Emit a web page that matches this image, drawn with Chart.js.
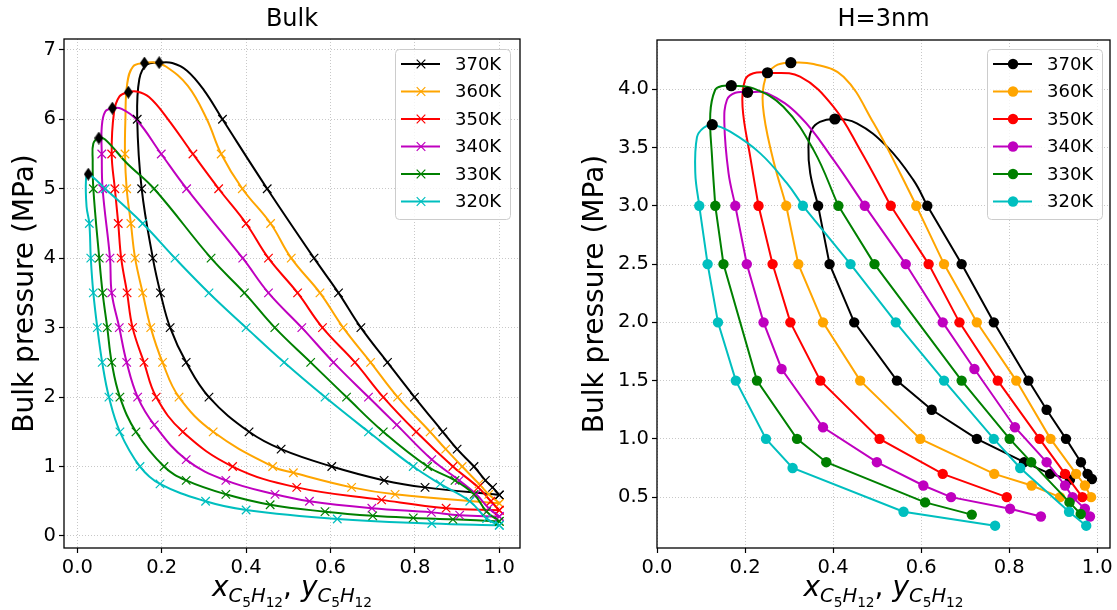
<!DOCTYPE html>
<html>
<head>
<meta charset="utf-8">
<script src="https://cdn.jsdelivr.net/npm/chart.js@4.4.1/dist/chart.umd.min.js"></script>
<style>
  body { margin: 0; background: #fff; width: 1117px; height: 610px; overflow: hidden; position: relative; }
  canvas { position: absolute; top: 0; }
  #bulk { left: 0; }
  #pore { left: 560px; }
</style>
</head>
<body>
<canvas id="bulk" width="560" height="610"></canvas>
<canvas id="pore" width="557" height="610"></canvas>
<script>
const temps = ['370K', '360K', '350K', '340K', '330K', '320K'];
const colors = ['#000000', '#ffa500', '#ff0000', '#bf00bf', '#008000', '#00bfbf'];

const bulkXTicks = [0, 0.2, 0.4, 0.6, 0.8, 1.0];
const bulkYTicks = [0, 1, 2, 3, 4, 5, 6, 7];
const poreXTicks = [0, 0.2, 0.4, 0.6, 0.8, 1.0];
const poreYTicks = [0.5, 1.0, 1.5, 2.0, 2.5, 3.0, 3.5, 4.0];

// Bulk: measured points on the bubble branch (from x=1 upward) and dew branch (from top down to x=1)
const bulkBubble = [
  [[1.0,0.59],[0.984,0.70],[0.967,0.80],[0.940,1.0],[0.900,1.25],[0.866,1.5],[0.799,2.0],[0.735,2.5],[0.672,3.0],[0.619,3.5],[0.561,4.0],[0.450,5.0],[0.344,6.0]],
  [[1.0,0.47],[0.975,0.6],[0.952,0.75],[0.912,1.0],[0.873,1.25],[0.836,1.5],[0.759,2.0],[0.695,2.5],[0.630,3.0],[0.575,3.5],[0.507,4.0],[0.458,4.5],[0.391,5.0],[0.341,5.5]],
  [[1.0,0.37],[0.98,0.5],[0.95,0.7],[0.89,1.0],[0.803,1.5],[0.725,2.0],[0.658,2.5],[0.581,3.0],[0.522,3.5],[0.453,4.0],[0.400,4.5],[0.335,5.0],[0.274,5.5]],
  [[1.0,0.28],[0.975,0.4],[0.945,0.6],[0.905,0.8],[0.840,1.1],[0.757,1.6],[0.690,2.0],[0.607,2.5],[0.532,3.0],[0.453,3.5],[0.392,4.0],[0.259,5.0],[0.199,5.5]],
  [[1.0,0.21],[0.97,0.35],[0.94,0.6],[0.895,0.8],[0.83,1.0],[0.725,1.5],[0.638,2.0],[0.553,2.5],[0.468,3.0],[0.396,3.5],[0.317,4.0],[0.182,5.0]],
  [[1.0,0.155],[0.97,0.25],[0.93,0.5],[0.86,0.75],[0.796,1.0],[0.690,1.5],[0.587,2.0],[0.490,2.5],[0.400,3.0],[0.312,3.5],[0.2315,4.0],[0.155,4.5],[0.066,5.0]]
];
const bulkDew = [
  [[0.142,6.0],[0.1525,5.0],[0.179,4.0],[0.197,3.5],[0.220,3.0],[0.258,2.5],[0.312,2.0],[0.407,1.5],[0.483,1.25],[0.603,1.0],[0.727,0.8],[0.824,0.70],[1.0,0.59]],
  [[0.113,5.5],[0.117,5.0],[0.127,4.5],[0.137,4.0],[0.155,3.5],[0.174,3.0],[0.202,2.5],[0.241,2.0],[0.322,1.5],[0.463,1.0],[0.512,0.91],[0.650,0.70],[0.753,0.60],[1.0,0.47]],
  [[0.0815,5.5],[0.089,5.0],[0.097,4.5],[0.104,4.0],[0.118,3.5],[0.131,3.0],[0.158,2.5],[0.187,2.0],[0.250,1.5],[0.368,1.0],[0.520,0.70],[0.721,0.52],[0.874,0.40],[1.0,0.37]],
  [[0.058,5.5],[0.060,5.0],[0.0775,4.0],[0.0815,3.5],[0.0995,3.0],[0.117,2.5],[0.143,2.0],[0.1825,1.6],[0.258,1.1],[0.352,0.8],[0.4685,0.6],[0.550,0.5],[0.698,0.4],[0.839,0.34],[0.906,0.30],[1.0,0.28]],
  [[0.038,5.0],[0.052,4.0],[0.060,3.5],[0.071,3.0],[0.0815,2.5],[0.101,2.0],[0.139,1.5],[0.2055,1.0],[0.258,0.8],[0.352,0.6],[0.457,0.45],[0.587,0.35],[0.700,0.29],[0.796,0.26],[0.890,0.24],[1.0,0.21]],
  [[0.0285,4.5],[0.032,4.0],[0.038,3.5],[0.0474,3.0],[0.059,2.5],[0.075,2.0],[0.101,1.5],[0.1486,1.0],[0.196,0.75],[0.304,0.50],[0.400,0.374],[0.616,0.245],[0.840,0.18],[1.0,0.155]]
];
// Bulk: unmarked envelope points near the top (bubble side, then dew side)
const bulkUpperR = [
  [[0.30,6.42],[0.26,6.70],[0.225,6.81]],
  [[0.307,6.0],[0.262,6.48],[0.21,6.76],[0.18,6.82]],
  [[0.215,6.0],[0.17,6.32],[0.14,6.40]],
  [[0.141,5.99],[0.105,6.15]],
  [[0.117,5.37],[0.066,5.71]],
  []
];
const bulkUpperL = [
  [[0.165,6.79],[0.147,6.58]],
  [[0.132,6.76],[0.118,6.5],[0.114,6.0]],
  [[0.100,6.33],[0.087,6.1]],
  [[0.066,6.11],[0.058,5.89]],
  [[0.038,5.65],[0.0365,5.41]],
  [[0.0206,5.13],[0.022,4.74]]
];
const bulkCritical = [[0.194,6.815],[0.159,6.81],[0.121,6.39],[0.083,6.16],[0.051,5.73],[0.026,5.21]];

// H=3nm: dew branch (from low end up to 3 MPa), bubble branch (from 3 MPa down)
const poreDew = [
  [[0.938,0.65],[0.893,0.70],[0.834,0.80],[0.7265,1.0],[0.624,1.25],[0.545,1.5],[0.448,2.0],[0.392,2.5],[0.366,3.0]],
  [[0.9155,0.5],[0.851,0.6],[0.766,0.7],[0.598,1.0],[0.4615,1.5],[0.377,2.0],[0.321,2.5],[0.2935,3.0]],
  [[0.7945,0.5],[0.649,0.7],[0.5055,1.0],[0.371,1.5],[0.303,2.0],[0.2625,2.5],[0.2306,3.0]],
  [[0.872,0.334],[0.802,0.4],[0.668,0.5],[0.605,0.6],[0.4995,0.8],[0.377,1.1],[0.283,1.6],[0.242,2.0],[0.204,2.5],[0.1778,3.0]],
  [[0.715,0.35],[0.609,0.455],[0.3845,0.8],[0.318,1.0],[0.227,1.5],[0.151,2.5],[0.1324,3.0]],
  [[0.768,0.255],[0.560,0.375],[0.308,0.75],[0.2475,1.0],[0.179,1.5],[0.1385,2.0],[0.115,2.5],[0.096,3.0]]
];
const poreBubble = [
  [[0.614,3.0],[0.692,2.5],[0.765,2.0],[0.8437,1.5],[0.885,1.25],[0.929,1.0],[0.963,0.8],[0.978,0.7],[0.988,0.655]],
  [[0.589,3.0],[0.652,2.5],[0.7265,2.0],[0.816,1.5],[0.894,1.0],[0.952,0.7],[0.972,0.6],[0.986,0.5]],
  [[0.531,3.0],[0.617,2.5],[0.687,2.0],[0.774,1.5],[0.869,1.0],[0.927,0.7],[0.966,0.5]],
  [[0.472,3.0],[0.565,2.5],[0.649,2.0],[0.721,1.6],[0.813,1.1],[0.885,0.8],[0.927,0.6],[0.944,0.5],[0.972,0.4],[0.9835,0.334]],
  [[0.412,3.0],[0.494,2.5],[0.692,1.5],[0.801,1.0],[0.850,0.8],[0.937,0.455],[0.9625,0.355]],
  [[0.3314,3.0],[0.4395,2.5],[0.5425,2.0],[0.652,1.5],[0.765,1.0],[0.825,0.75],[0.936,0.375],[0.975,0.255]]
];
const poreUpperL = [
  [[0.348,3.28],[0.344,3.51],[0.351,3.65],[0.370,3.72]],
  [[0.261,3.44],[0.2405,3.86],[0.246,4.09],[0.2685,4.2]],
  [[0.2118,3.42],[0.1943,3.85],[0.200,4.08],[0.219,4.137]],
  [[0.1625,3.28],[0.153,3.71],[0.159,3.91],[0.178,3.97]],
  [[0.125,3.42],[0.121,3.79],[0.132,3.994],[0.1475,4.028]],
  [[0.087,3.28],[0.0908,3.59],[0.106,3.67]]
];
const poreUpperR = [
  [[0.454,3.708],[0.522,3.51],[0.5825,3.22]],
  [[0.3556,4.217],[0.4237,4.108],[0.492,3.71],[0.5523,3.28]],
  [[0.325,4.108],[0.401,3.85],[0.4615,3.48]],
  [[0.25,3.966],[0.3253,3.765],[0.401,3.394]],
  [[0.219,4.008],[0.287,3.85],[0.3555,3.48]],
  [[0.1664,3.636],[0.2345,3.45],[0.295,3.194]]
];
const poreCritical = [[0.404,3.745],[0.304,4.228],[0.251,4.142],[0.2057,3.974],[0.1687,4.031],[0.1255,3.696]];

const FONT = 'DejaVu Sans';
const pts = list => list.map(([x, y]) => ({ x, y }));

// thin black diamond for the bulk critical points
const diamond = document.createElement('canvas');
diamond.width = 9; diamond.height = 13;
(() => {
  const d = diamond.getContext('2d');
  d.fillStyle = '#000';
  d.beginPath(); d.moveTo(4.5, 0); d.lineTo(9, 6.5); d.lineTo(4.5, 13); d.lineTo(0, 6.5); d.closePath(); d.fill();
})();

function drawVarLabel(ctx, cx, baseY, size) {
  const sub = size * 0.7, sub2 = size * 0.49;
  const d1 = size * 0.22, d2 = d1 + size * 0.16;
  const one = v => [[v, 'italic', size, 0], ['C', 'italic', sub, d1], ['5', 'normal', sub2, d2], ['H', 'italic', sub, d1], ['12', 'normal', sub2, d2]];
  const parts = [...one('x'), [', ', 'normal', size, 0], ...one('y')];
  let total = 0;
  parts.forEach(p => { ctx.font = `${p[1]} ${p[2]}px "${FONT}"`; p.w = ctx.measureText(p[0]).width; total += p.w; });
  let x = cx - total / 2;
  ctx.textAlign = 'left'; ctx.textBaseline = 'alphabetic'; ctx.fillStyle = '#000';
  parts.forEach(p => { ctx.font = `${p[1]} ${p[2]}px "${FONT}"`; ctx.fillText(p[0], x, baseY + p[3]); x += p.w; });
}

// frame, titles, axis labels and the boxed legend
const decor = {
  id: 'decor',
  afterDraw(chart, args, o) {
    const { ctx, chartArea: a } = chart;
    ctx.save();
    ctx.strokeStyle = '#000'; ctx.lineWidth = 1.3;
    ctx.strokeRect(a.left, a.top, a.right - a.left, a.bottom - a.top);

    const cx = (a.left + a.right) / 2;
    ctx.fillStyle = '#000';
    ctx.font = `24px "${FONT}"`; ctx.textAlign = 'center'; ctx.textBaseline = 'middle';
    ctx.fillText(o.title, cx, 20);

    ctx.save();
    ctx.translate(o.ylabelX, (a.top + a.bottom) / 2);
    ctx.rotate(-Math.PI / 2);
    ctx.font = `28px "${FONT}"`;
    ctx.fillText('Bulk pressure (MPa)', 0, 0);
    ctx.restore();

    drawVarLabel(ctx, cx, 596, 28);

    // legend
    const w = 115, h = 170;
    const left = a.right - o.legendRight - w, top = a.top + o.legendTop;
    ctx.beginPath(); ctx.roundRect(left + 0.5, top + 0.5, w, h, 4);
    ctx.fillStyle = 'rgba(255,255,255,0.8)'; ctx.fill();
    ctx.strokeStyle = '#cccccc'; ctx.lineWidth = 1; ctx.stroke();
    temps.forEach((t, i) => {
      const y = top + 15 + i * 27.5;
      ctx.strokeStyle = colors[i]; ctx.lineWidth = 2;
      ctx.beginPath(); ctx.moveTo(left + 6, y); ctx.lineTo(left + 45, y); ctx.stroke();
      const mx = left + 26;
      if (o.marker === 'x') {
        ctx.lineWidth = 1.2; ctx.beginPath();
        ctx.moveTo(mx - 4.3, y - 4.3); ctx.lineTo(mx + 4.3, y + 4.3);
        ctx.moveTo(mx - 4.3, y + 4.3); ctx.lineTo(mx + 4.3, y - 4.3); ctx.stroke();
      } else {
        ctx.fillStyle = colors[i]; ctx.beginPath(); ctx.arc(mx, y, 5.2, 0, Math.PI * 2); ctx.fill();
      }
      ctx.fillStyle = '#000'; ctx.font = `18px "${FONT}"`; ctx.textAlign = 'left'; ctx.textBaseline = 'middle';
      ctx.fillText(t, left + 60, y + 1);
    });
    ctx.restore();
  }
};

function axis(min, max, ticks, digits, fit) {
  return {
    type: 'linear', min, max,
    afterBuildTicks: s => { s.ticks = ticks.map(v => ({ value: v })); },
    afterFit: fit,
    grid: { color: '#c8c8c8', lineWidth: 1, tickColor: '#000', tickWidth: 1.2, tickLength: 5, tickBorderDash: [] },
    border: { display: false, dash: [1, 2] },
    ticks: { color: '#000', font: { family: FONT, size: 19.5 }, padding: 3, maxRotation: 0, autoSkip: false,
             callback: v => v.toFixed(digits) }
  };
}

function baseOptions(xAxis, yAxis, padding, decorOpts) {
  return {
    responsive: false, animation: false, events: [],
    layout: { padding },
    scales: { x: xAxis, y: yAxis },
    plugins: { legend: { display: false }, tooltip: { enabled: false }, decor: decorOpts }
  };
}

// ---- Bulk chart ----
const bulkSets = [];
temps.forEach((t, i) => {
  bulkSets.push({
    data: pts([...bulkBubble[i], ...bulkUpperR[i], bulkCritical[i], ...bulkUpperL[i], ...bulkDew[i]]),
    showLine: true, tension: 0.4, borderColor: colors[i], borderWidth: 2, pointRadius: 0, order: 20 - i
  });
  bulkSets.push({
    data: pts([...bulkBubble[i], ...bulkDew[i]]),
    showLine: false, pointStyle: 'crossRot', pointRadius: 6, borderColor: colors[i], pointBorderWidth: 1.2, order: 10 - i
  });
});
bulkSets.push({ data: pts(bulkCritical), showLine: false, pointStyle: diamond, pointRadius: 6, order: 0 });

new Chart(document.getElementById('bulk'), {
  type: 'scatter',
  data: { datasets: bulkSets },
  options: baseOptions(
    axis(-0.0315, 1.049, bulkXTicks, 1, s => { s.height = 62; }),
    axis(-0.173, 7.156, bulkYTicks, 0, s => { s.width = 64; }),
    { top: 39, right: 40, left: 0, bottom: 0 },
    { title: 'Bulk', ylabelX: 26, legendRight: 10, legendTop: 10, marker: 'x' }
  ),
  plugins: [decor]
});

// ---- H=3nm chart ----
const poreSets = [];
temps.forEach((t, i) => {
  const style = { borderColor: colors[i], backgroundColor: colors[i], borderWidth: 2, pointRadius: 5.2, pointBorderWidth: 0, order: 10 - i };
  poreSets.push({ data: pts(poreDew[i]), showLine: true, tension: 0, ...style });
  poreSets.push({ data: pts(poreBubble[i]), showLine: true, tension: 0, ...style });
  poreSets.push({
    data: pts([poreDew[i][poreDew[i].length - 1], ...poreUpperL[i], poreCritical[i], ...poreUpperR[i], poreBubble[i][0]]),
    showLine: true, tension: 0.4, borderColor: colors[i], borderWidth: 2, pointRadius: 0, order: 10 - i
  });
});
poreSets.push({ data: pts(poreCritical), showLine: false, pointRadius: 5.6, backgroundColor: '#000', borderColor: '#000', pointBorderWidth: 0, order: 0 });

new Chart(document.getElementById('pore'), {
  type: 'scatter',
  data: { datasets: poreSets },
  options: baseOptions(
    axis(0, 1.029, poreXTicks, 1, s => { s.height = 62; }),
    axis(0.0635, 4.423, poreYTicks, 1, s => { s.width = 97; }),
    { top: 40, right: 7, left: 0, bottom: 0 },
    { title: 'H=3nm', ylabelX: 36, legendRight: 8, legendTop: 9, marker: 'o' }
  ),
  plugins: [decor]
});
</script>
</body>
</html>
